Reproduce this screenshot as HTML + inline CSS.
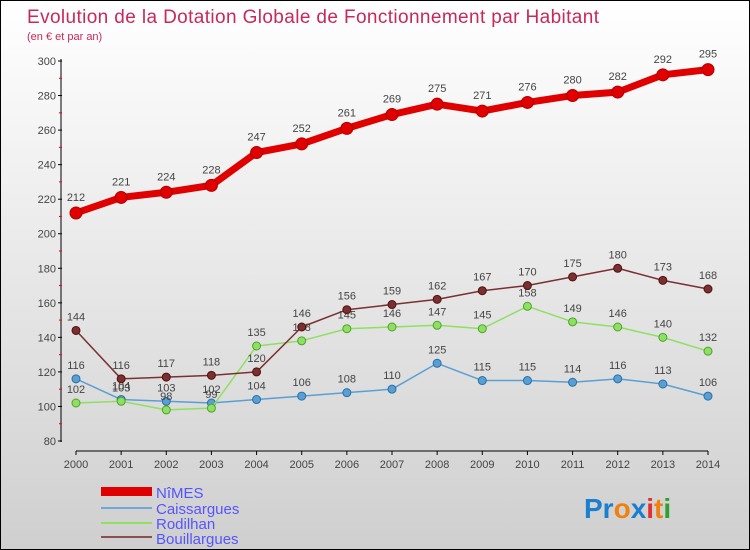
<!DOCTYPE html>
<html><head><meta charset="utf-8"><style>
body{margin:0;}
#wrap{width:748px;height:548px;border:1px solid #000;background:linear-gradient(#ffffff,#f6f6f6 20%,#cfcfcf);position:relative;overflow:hidden;font-family:"Liberation Sans",sans-serif;}
</style></head><body>
<div id="wrap">
<svg id="c" width="748" height="548" xmlns="http://www.w3.org/2000/svg">
<text x="26" y="22" font-size="19" fill="#c8285a" font-family="Liberation Sans, sans-serif" textLength="572">Evolution de la Dotation Globale de Fonctionnement par Habitant</text>
<text x="26" y="39" font-size="11" fill="#c8285a">(en € et par an)</text>
<g id="axes"></g><g id="series"></g>
<g font-size="15" fill="#5555ff">
<rect x="100" y="486" width="51" height="9" fill="#e00000"/>
<text x="155" y="497">NîMES</text>
<rect x="100" y="506" width="51" height="2" fill="#6fa8d8"/>
<text x="155" y="513">Caissargues</text>
<rect x="100" y="521" width="51" height="2" fill="#90e060"/>
<text x="155" y="528">Rodilhan</text>
<rect x="100" y="535" width="51" height="2" fill="#8a5050"/>
<text x="155" y="543">Bouillargues</text>
</g>
<text x="583" y="517" font-size="28" font-weight="bold"><tspan fill="#1a7fd0">Pr</tspan><tspan fill="#f08010">o</tspan><tspan fill="#1a7fd0">x</tspan><tspan fill="#e03030">i</tspan><tspan fill="#f08010">t</tspan><tspan fill="#30a030">i</tspan></text>
</svg></div>
<script>
const years=[2000,2001,2002,2003,2004,2005,2006,2007,2008,2009,2010,2011,2012,2013,2014];
const yTicks=[80,100,120,140,160,180,200,220,240,260,280,300];
const nimes=[212,221,224,228,247,252,261,269,275,271,276,280,282,292,295];
const caissargues=[116,104,103,102,104,106,108,110,125,115,115,114,116,113,106];
const rodilhan=[102,103,98,99,135,138,145,146,147,145,158,149,146,140,132];
const bouillargues=[144,116,117,118,120,146,156,159,162,167,170,175,180,173,168];
const NS='http://www.w3.org/2000/svg';
const xs=i=>75+i*(632/14);
const ys=v=>440-(v-80)*(380/220);
function mk(tag,attrs,parent){const e=document.createElementNS(NS,tag);for(const k in attrs)e.setAttribute(k,attrs[k]);parent.appendChild(e);return e;}
const ax=document.getElementById('axes'),sg=document.getElementById('series');
let l=mk('line',{x1:60,y1:58,x2:60,y2:441,stroke:'#000','stroke-width':1},ax);


l=mk('line',{x1:75,y1:450,x2:707,y2:450,stroke:'#000','stroke-width':1},ax);


yTicks.forEach((t,i)=>{const y=ys(t);
 mk('line',{x1:57,y1:y,x2:61,y2:y,stroke:'#000'},ax);
 if(i<yTicks.length-1)mk('line',{x1:58,y1:ys(t+10),x2:61,y2:ys(t+10),stroke:'#e00'},ax);
 const tx=mk('text',{x:55,y:y+4,'font-size':11,fill:'#444','text-anchor':'end'},ax);tx.textContent=t;
 
 });
years.forEach((yr,i)=>{const x=xs(i);
 mk('line',{x1:x,y1:450,x2:x,y2:454,stroke:'#000'},ax);
 const tx=mk('text',{x:x,y:467,'font-size':11,fill:'#444','text-anchor':'middle'},ax);tx.textContent=yr;
 
 });
function series(data,name,color,w,r,dark){
 const g=mk('g',{},sg);
 
 
 const p=mk('polyline',{points:data.map((v,i)=>xs(i)+','+ys(v)).join(' '),fill:'none',stroke:color,'stroke-width':w,'stroke-linejoin':'round'},g);
 
 
 data.forEach((v,i)=>{const c=mk('circle',{cx:xs(i),cy:ys(v),r:r,fill:color,stroke:dark,'stroke-width':1},g);
  
  
  const t=mk('text',{x:xs(i),y:ys(v)-(r+6),'font-size':11,fill:'#444','text-anchor':'middle'},g);t.textContent=v;
  
  });
}
series(caissargues,'caissargues','#5a9fd4',1.5,4,'#2a6fa4');
series(rodilhan,'rodilhan','#8ee060',1.5,4,'#50a030');
series(bouillargues,'bouillargues','#7a3030',1.5,4,'#501010');
series(nimes,'nimes','#e00000',7,6,'#b00000');
</script>
</body></html>
